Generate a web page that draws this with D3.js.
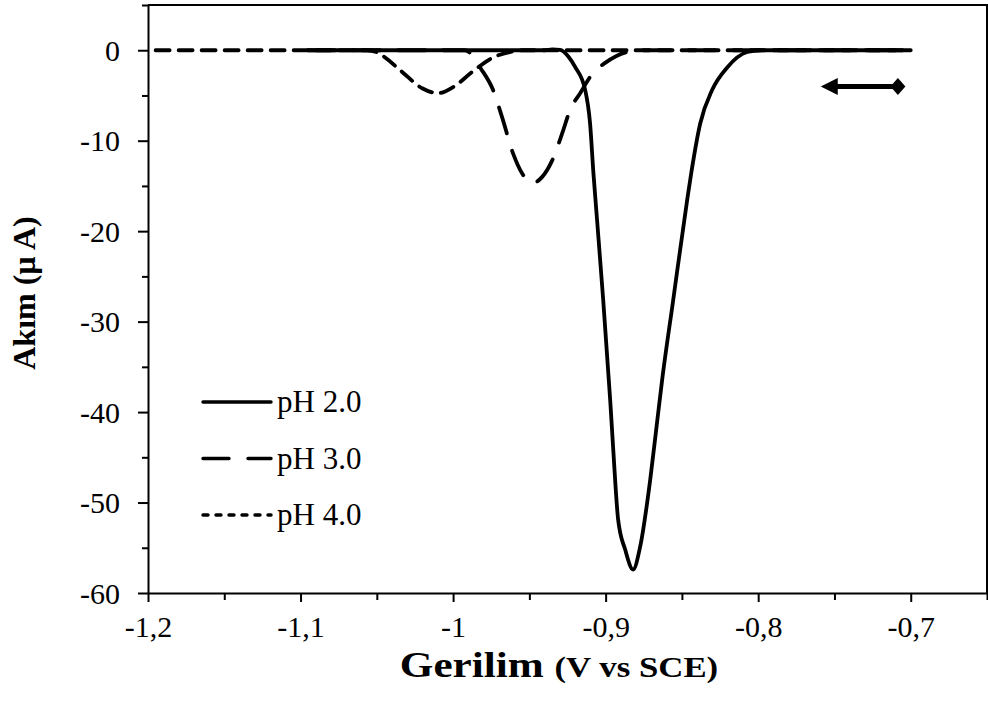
<!DOCTYPE html>
<html>
<head>
<meta charset="utf-8">
<script src="https://cdn.jsdelivr.net/npm/d3@7"></script>
<style>
  body { margin: 0; background: #fff; }
  svg text { font-family: "Liberation Serif", "Times New Roman", serif; fill: #000; }
</style>
</head>
<body>
<div id="chart"></div>
<script>
// size of the picture
var w = 988;
var h = 706;

// pH 2.0 (solid)
var voltsPH2 = [-1.095, -0.94, -0.935, -0.9298, -0.9246, -0.92, -0.9134, -0.9102, -0.908, -0.9056,
  -0.9016, -0.897, -0.8951, -0.8918, -0.8872, -0.882, -0.8774, -0.8708, -0.8669, -0.863,
  -0.8557, -0.8466, -0.8439, -0.838, -0.8302, -0.8203, -0.8072, -0.7987, -0.7];
var currentPH2 = [0, 0, 0.1, 0.05, -0.66, -1.85, -4.4, -8.1, -13.6, -18.8,
  -27.6, -38.7, -43.9, -51.9, -55.2, -57.4, -54.9, -47.5, -42, -36.5,
  -27.6, -16.6, -13.6, -8.1, -4.4, -1.9, -0.2, 0, 0];

// pH 3.0 (long dash)
var voltsPH3 = [-1.095, -0.9921, -0.9875, -0.9823, -0.9738, -0.9679, -0.9607, -0.9548, -0.9482, -0.9416,
  -0.9351, -0.9285, -0.9233, -0.9167, -0.9082, -0.9003, -0.8859, -0.8754, -0.7];
var currentPH3 = [0, 0, -0.55, -1.9, -4.4, -7.4, -11.4, -13.6, -14.7, -14.0,
  -12.2, -9.2, -6.6, -4.75, -2.5, -1.4, -0.2, 0, 0];

// pH 4.0 (short dash)
var voltsPH4 = [-1.195, -1.0564, -1.049, -1.0446, -1.0334, -1.0203, -1.0098, -0.9993, -0.9875, -0.9738,
  -0.9593, -0.955, -0.7];
var currentPH4 = [0, 0, -0.3, -0.8, -2.4, -4.2, -4.75, -4.0, -2.4, -0.8,
  -0.1, 0, 0];

var seriesNames = ["pH 2.0", "pH 3.0", "pH 4.0"];

// tick values
var xTicks = [-1.2, -1.1, -1.0, -0.9, -0.8, -0.7];
var xMinor = [-1.15, -1.05, -0.95, -0.85, -0.75, -0.65];
var yTicks = [-60, -50, -40, -30, -20, -10, 0];
var yMinor = [-55, -45, -35, -25, -15, -5, 5];

// the arrow in the corner (scan direction)
var arrowFrom = -0.7035;
var arrowTo = -0.759;
var arrowY = -4;

// plot area (window.top is read-only, so no plain "top")
var mLeft = 148, mRight = 987, mTop = 5, mBottom = 593;

var xScale = d3.scaleLinear().domain([-1.2, -0.65]).range([mLeft, mRight]);
var yScale = d3.scaleLinear().domain([-60, 5]).range([mBottom, mTop]);

var locale = d3.formatLocale({ decimal: ",", thousands: ".", grouping: [3], currency: ["", ""], minus: "-" });
var fmt = locale.format("~g");

var svg = d3.select("#chart").append("svg")
  .attr("width", w)
  .attr("height", h);

// frame on top and right
svg.append("path")
  .attr("d", "M" + mLeft + "," + mTop + "H" + mRight + "V" + mBottom)
  .attr("fill", "none")
  .attr("stroke", "#000")
  .attr("stroke-width", 2);

// x axis, major and minor ticks
var xAxisG = svg.append("g")
  .attr("transform", "translate(0," + mBottom + ")")
  .call(d3.axisBottom(xScale).tickValues(xTicks).tickSize(9).tickSizeOuter(0).tickFormat(fmt));
svg.append("g")
  .attr("transform", "translate(0," + mBottom + ")")
  .call(d3.axisBottom(xScale).tickValues(xMinor).tickSize(7).tickSizeOuter(0).tickFormat(""))
  .select(".domain").remove();

// y axis
var yAxisG = svg.append("g")
  .attr("transform", "translate(" + mLeft + ",0)")
  .call(d3.axisLeft(yScale).tickValues(yTicks).tickSize(10).tickSizeOuter(0).tickFormat(fmt));
svg.append("g")
  .attr("transform", "translate(" + mLeft + ",0)")
  .call(d3.axisLeft(yScale).tickValues(yMinor).tickSize(6).tickSizeOuter(0).tickFormat(""))
  .select(".domain").remove();

svg.selectAll(".domain, .tick line")
  .attr("stroke", "#000")
  .attr("stroke-width", 2);

xAxisG.selectAll("text")
  .attr("font-size", "30px")
  .attr("y", 23);
yAxisG.selectAll("text")
  .attr("font-size", "30px")
  .attr("x", -28)
  .attr("dy", "0.34em");

// line generator
var line = d3.line()
  .x(function(d) { return xScale(d[0]); })
  .y(function(d) { return yScale(d[1]); })
  .curve(d3.curveMonotoneX);

var series = [
  { name: seriesNames[0], pts: d3.zip(voltsPH2, currentPH2), dash: null, legendDash: null },
  { name: seriesNames[1], pts: d3.zip(voltsPH3, currentPH3), dash: "27,18", legendDash: "26,19" },
  { name: seriesNames[2], pts: d3.zip(voltsPH4, currentPH4), dash: "14,9", legendDash: "5,8" }
];

// draw pH 4 first, then pH 3, then pH 2 on top
series.slice().reverse().forEach(function(s) {
  svg.append("path")
    .datum(s.pts)
    .attr("fill", "none")
    .attr("stroke", "#000")
    .attr("stroke-width", 3.8)
    .attr("stroke-linecap", "round")
    .attr("stroke-linejoin", "round")
    .attr("stroke-dasharray", s.dash)
    .attr("d", line);
});

// legend
var legend = svg.append("g").attr("transform", "translate(203,402)");
series.forEach(function(s, i) {
  var g = legend.append("g").attr("transform", "translate(0," + (i * 56.5) + ")");
  g.append("line")
    .attr("x1", 0).attr("x2", 68)
    .attr("stroke", "#000")
    .attr("stroke-width", 3.4)
    .attr("stroke-linecap", "round")
    .attr("stroke-dasharray", s.legendDash);
  g.append("text")
    .attr("x", 74)
    .attr("y", 10)
    .attr("font-size", "31px")
    .text(s.name);
});

// arrow: triangle head on the left, diamond on the right
var ax1 = xScale(arrowTo), ax2 = xScale(arrowFrom), ay = yScale(arrowY);
svg.append("line")
  .attr("x1", ax1 + 12).attr("x2", ax2 - 4)
  .attr("y1", ay).attr("y2", ay)
  .attr("stroke", "#000")
  .attr("stroke-width", 5);
svg.append("path")
  .attr("d", "M" + ax1 + "," + ay + "L" + (ax1 + 17) + "," + (ay - 8.5) + "L" + (ax1 + 17) + "," + (ay + 8.5) + "Z")
  .attr("fill", "#000");
svg.append("path")
  .attr("d", "M" + (ax2 - 15) + "," + ay + "L" + (ax2 - 7.5) + "," + (ay - 8.5) + "L" + ax2 + "," + ay + "L" + (ax2 - 7.5) + "," + (ay + 8.5) + "Z")
  .attr("fill", "#000");

// y axis title
svg.append("text")
  .attr("transform", "translate(35," + ((mTop + mBottom) / 2 - 6) + ") rotate(-90)")
  .attr("text-anchor", "middle")
  .attr("font-size", "32px")
  .attr("font-weight", "bold")
  .text("Akım (µ A)");

// x axis title (text looks a bit stretched in the original)
var xt = svg.append("text")
  .attr("transform", "translate(559,677) scale(1.2,1)")
  .attr("text-anchor", "middle")
  .attr("font-weight", "bold");
xt.append("tspan").attr("font-size", "36px").text("Gerilim ");
xt.append("tspan").attr("font-size", "29px").text("(V vs SCE)");
</script>
</body>
</html>
